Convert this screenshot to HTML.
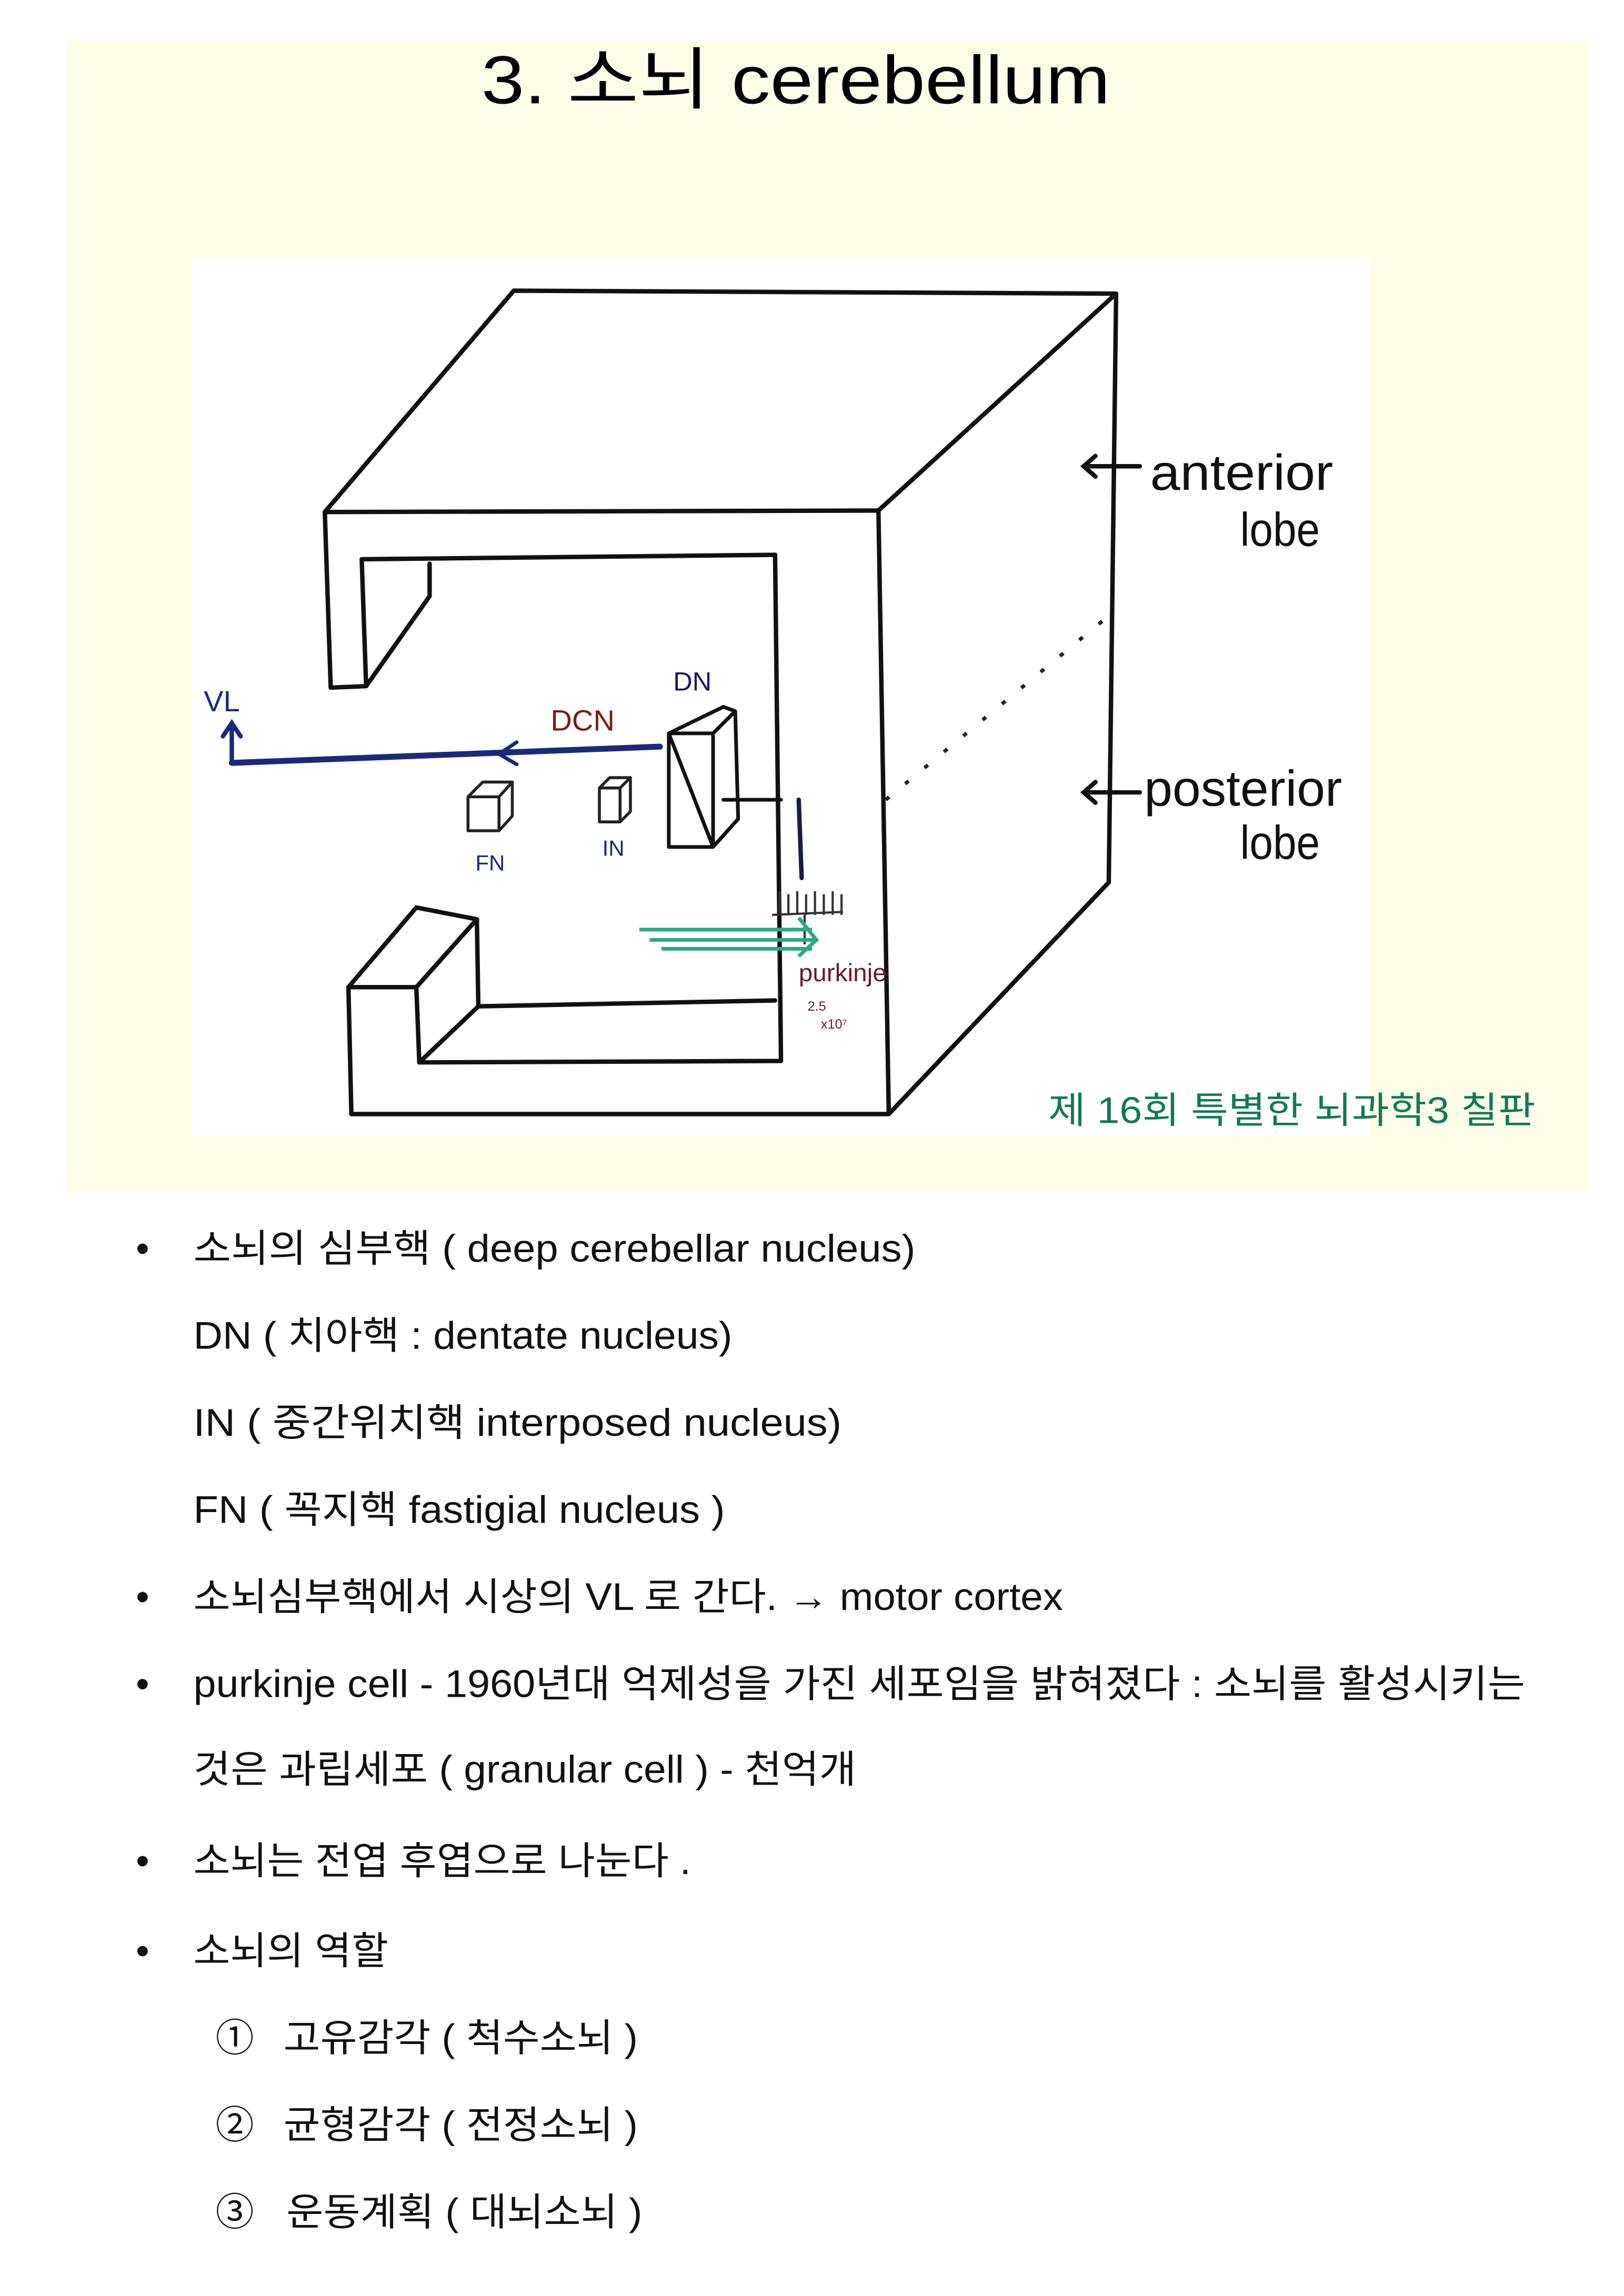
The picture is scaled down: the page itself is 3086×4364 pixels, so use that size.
<!DOCTYPE html>
<html><head><meta charset="utf-8"><style>
html,body{margin:0;padding:0;background:#fff;}
svg{display:block;}
text{font-family:"Liberation Sans","Noto Sans CJK KR",sans-serif;}
</style></head><body>
<svg width="3086" height="4364" viewBox="0 0 1100 1556" preserveAspectRatio="none" xmlns="http://www.w3.org/2000/svg">
<rect x="0" y="0" width="1100" height="1556" fill="#fff"/>
<rect x="45" y="28" width="1030" height="780" fill="#fefee8"/>
<text x="326" y="70" font-size="46" textLength="426" lengthAdjust="spacingAndGlyphs" fill="#000">3.   소뇌 cerebellum</text>
<rect x="130" y="175" width="798" height="595" fill="#fff"/>
<g fill="none" stroke="#111" stroke-width="3" stroke-linejoin="round" stroke-linecap="round">
<!-- top face -->
<path d="M348,197 L756,199 L595,346 L220,347 Z"/>
<!-- right face -->
<path d="M756,199 L751,598 L602,755 L595,346"/>
<!-- front face outer -->
<path d="M220,347 L224,466 L248,465 L245,379 L525,376 L529,719 L284,720"/>
<path d="M291,382 L291,404 L248,465"/>
<path d="M236,669 L238,755 L602,755"/>
<path d="M236,669 L282,669 L284,720"/>
<path d="M236,669 L282,615 L323,623 L282,669"/>
<path d="M323,623 L324,682 L525,678"/>
<path d="M284,720 L324,682"/>
<!-- DN box -->
<path d="M453,497 L483,574 M453,497 L453,574 L483,574 L483,497 L453,497 M453,497 L490,479 L498,482 L500,555 L483,574 M483,497 L498,482" stroke-width="2.5"/>
<path d="M490,542 L529,542" stroke-width="2.5"/>
<path d="M541,542 L543,595" stroke="#1a1a50" stroke-width="3"/>
<!-- FN cube -->
<path d="M317,540 L317,563 L338,563 L338,540 Z M317,540 L327,530 L347,530 L338,540 M347,530 L347,553 L338,563" stroke-width="2" stroke="#222"/>
<!-- IN cube -->
<path d="M406,534 L406,557 L420,557 L420,534 Z M406,534 L413,527 L427,527 L420,534 M427,527 L427,550 L420,557" stroke-width="2" stroke="#222"/>
</g>
<path d="M600,542 L749,419" stroke="#222" stroke-width="2.5" stroke-dasharray="3 14" fill="none"/>
<!-- anterior / posterior arrows -->
<g stroke="#111" stroke-width="3" fill="none" stroke-linecap="round">
<path d="M734,316 L772,316 M742,309 L734,316 L742,323"/>
<path d="M734,537 L772,537 M742,530 L734,537 L742,544"/>
</g>
<text x="779" y="332" font-size="34" fill="#111" font-family="Liberation Sans Narrow, Liberation Sans, sans-serif" textLength="124" lengthAdjust="spacingAndGlyphs">anterior</text>
<text x="840" y="370" font-size="32" fill="#111" textLength="54" lengthAdjust="spacingAndGlyphs">lobe</text>
<text x="775" y="546" font-size="34" fill="#111" textLength="134" lengthAdjust="spacingAndGlyphs">posterior</text>
<text x="840" y="582" font-size="32" fill="#111" textLength="54" lengthAdjust="spacingAndGlyphs">lobe</text>
<!-- VL arrow -->
<g stroke="#1a2a7a" stroke-width="4" fill="none" stroke-linecap="round">
<path d="M157,517 L447,506"/>
<path d="M350,503 L338,511 L350,518" stroke-width="2.5"/>
<path d="M157,517 L157,492 M151,499 L157,490 L163,499" stroke-width="3"/>
</g>
<text x="138" y="482" font-size="20" fill="#1a2a7a">VL</text>
<text x="373" y="495" font-size="20" fill="#7a1a1a">DCN</text>
<text x="456" y="468" font-size="18" fill="#1a1a50">DN</text>
<text x="322" y="590" font-size="15" fill="#1a2a7a">FN</text>
<text x="408" y="580" font-size="15" fill="#1a2a7a">IN</text>
<!-- purkinje comb -->
<g stroke="#333" stroke-width="1.5" fill="none">
<path d="M523,620 L571,618 M528,604 L528,620 M534,606 L534,620 M540,604 L540,620 M546,606 L546,620 M552,604 L552,620 M558,606 L558,620 M564,604 L564,620 M570,606 L570,620 M545,620 L545,640"/>
</g>
<g stroke="#2aa888" stroke-width="2.5" fill="none">
<path d="M433,630 L550,630 M440,637 L552,637 M448,643 L550,643 M541,622 L553,637 L541,648"/>
</g>
<text x="541" y="665" font-size="17" fill="#6a1a2a">purkinje</text>
<text x="547" y="685" font-size="9" fill="#6a1a2a">2.5</text>
<text x="556" y="697" font-size="9" fill="#6a1a2a">x10⁷</text>
<text x="710" y="761" font-size="25" fill="#117a55" textLength="330" lengthAdjust="spacingAndGlyphs">제 16회 특별한 뇌과학3  칠판</text>
<!-- bullets -->
<g font-size="26" fill="#111">
<text x="92" y="855">•</text>
<text x="131" y="855" textLength="489" lengthAdjust="spacingAndGlyphs">소뇌의 심부핵 ( deep cerebellar nucleus)</text>
<text x="131" y="914" textLength="365" lengthAdjust="spacingAndGlyphs">DN ( 치아핵 : dentate nucleus)</text>
<text x="131" y="973" textLength="439" lengthAdjust="spacingAndGlyphs">IN  ( 중간위치핵 interposed nucleus)</text>
<text x="131" y="1032" textLength="360" lengthAdjust="spacingAndGlyphs">FN ( 꼭지핵 fastigial nucleus )</text>
<text x="92" y="1091">•</text>
<text x="131" y="1091" textLength="589" lengthAdjust="spacingAndGlyphs">소뇌심부핵에서 시상의 VL 로 간다. → motor cortex</text>
<text x="92" y="1150">•</text>
<text x="131" y="1150" textLength="902" lengthAdjust="spacingAndGlyphs">purkinje cell - 1960년대 억제성을 가진 세포임을 밝혀졌다  : 소뇌를 활성시키는</text>
<text x="131" y="1208" textLength="449" lengthAdjust="spacingAndGlyphs">것은 과립세포 ( granular cell ) - 천억개</text>
<text x="92" y="1270">•</text>
<text x="131" y="1270" textLength="337" lengthAdjust="spacingAndGlyphs">소뇌는 전엽 후엽으로 나눈다 .</text>
<text x="92" y="1331">•</text>
<text x="131" y="1331" textLength="132" lengthAdjust="spacingAndGlyphs">소뇌의 역할</text>
<text x="146" y="1390">①</text>
<text x="192" y="1390" textLength="240" lengthAdjust="spacingAndGlyphs">고유감각 ( 척수소뇌 )</text>
<text x="146" y="1449">②</text>
<text x="192" y="1449" textLength="240" lengthAdjust="spacingAndGlyphs">균형감각 ( 전정소뇌 )</text>
<text x="146" y="1508">③</text>
<text x="194" y="1508" textLength="241" lengthAdjust="spacingAndGlyphs">운동계획 ( 대뇌소뇌 )</text>
</g>
</svg>
</body></html>
